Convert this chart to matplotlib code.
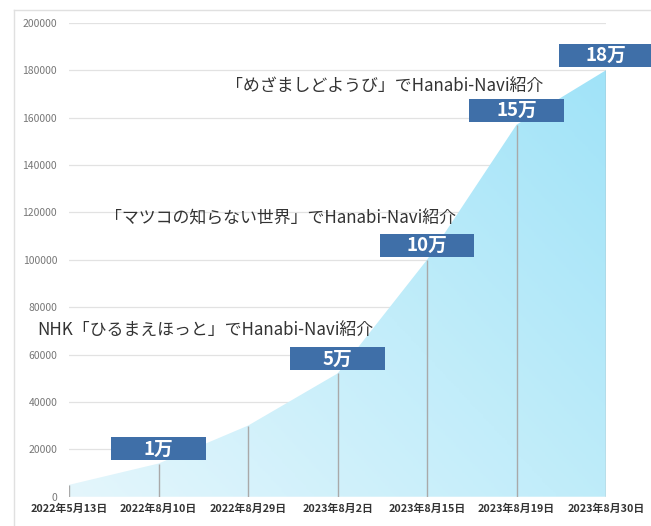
import matplotlib
matplotlib.use('Agg')
import matplotlib.pyplot as plt
import matplotlib.patches as mpatches
from matplotlib.lines import Line2D
from matplotlib.colors import LinearSegmentedColormap
import numpy as np

plt.rcParams['font.family'] = ['Noto Sans CJK JP', 'DejaVu Sans']

# ========== Data ==========
dates = ['2022年5月13日', '2022年8月10日', '2022年8月29日', '2023年8月2日',
         '2023年8月15日', '2023年8月19日', '2023年8月30日']
users = [5000, 14000, 30000, 52000, 100000, 157000, 180000]

milestone_idx = [1, 3, 4, 5, 6]
milestone_labels = ['1万', '5万', '10万', '15万', '18万']

notes = ['NHK「ひるまえほっと」でHanabi-Navi紹介',
         '「マツコの知らない世界」でHanabi-Navi紹介',
         '「めざましどようび」でHanabi-Navi紹介']
note_pos = [(-0.35, 70500), (0.40, 117500), (1.75, 173500)]

# ========== Plot ==========
fig = plt.figure(figsize=(6.51, 5.26), dpi=100)
ax = fig.add_axes([0.106, 0.0557, 0.825, 0.901])

x = np.arange(len(dates))
ax.set_xlim(0, len(dates) - 1)
ax.set_ylim(0, 200000)

# gradient filled area
poly = ax.fill_between(x, 0, users, facecolor='none', edgecolor='none')
gx, gy = np.meshgrid(np.linspace(0, 1, 200), np.linspace(0, 1, 200))
grad = 0.55 * gx + 0.45 * gy
cmap = LinearSegmentedColormap.from_list('sky', ['#e4f6fc', '#c2edfa', '#9de2f8'])
im = ax.imshow(grad, extent=[0, len(dates) - 1, 0, 200000], origin='lower',
               aspect='auto', cmap=cmap, vmin=0, vmax=1, zorder=1)
im.set_clip_path(poly.get_paths()[0], transform=ax.transData)

ax.vlines(x, 0, users, color='#a9a9a9', linewidth=1.0, zorder=2)

ax.set_yticks(np.arange(0, 200001, 20000))
ax.grid(axis='y', color='#e2e2e2', linewidth=0.9, zorder=0)
ax.set_axisbelow(True)
for s in ax.spines.values():
    s.set_visible(False)
ax.tick_params(axis='y', length=0, pad=8.5, labelsize=7.5, labelcolor='#777777')
ax.tick_params(axis='x', length=0, pad=5, labelsize=7.8, labelcolor='#333333')
ax.set_xticks(x)
ax.set_xticklabels(dates, fontweight='bold')

# milestone boxes
box_w, box_h = 1.06, 9700
for i, lab in zip(milestone_idx, milestone_labels):
    y0 = users[i] + 1300
    rect = mpatches.Rectangle((i - box_w / 2, y0), box_w, box_h,
                              facecolor='#3f6fa8', edgecolor='none',
                              zorder=4, clip_on=False)
    ax.add_patch(rect)
    ax.text(i, y0 + box_h / 2, lab, color='white', fontsize=13.5,
            fontweight='bold', ha='center', va='center', zorder=5,
            clip_on=False)

for txt, (tx, ty) in zip(notes, note_pos):
    ax.text(tx, ty, txt, fontsize=12.2, color='#333333', ha='left',
            va='center', zorder=6, clip_on=False)

# outer frame (top and left)
fig.add_artist(Line2D([14 / 651, 1], [1 - 10 / 526] * 2,
                      transform=fig.transFigure, color='#e0e0e0', linewidth=1))
fig.add_artist(Line2D([14 / 651] * 2, [0, 1 - 10 / 526],
                      transform=fig.transFigure, color='#e0e0e0', linewidth=1))

fig.savefig('out.png', dpi=100)
